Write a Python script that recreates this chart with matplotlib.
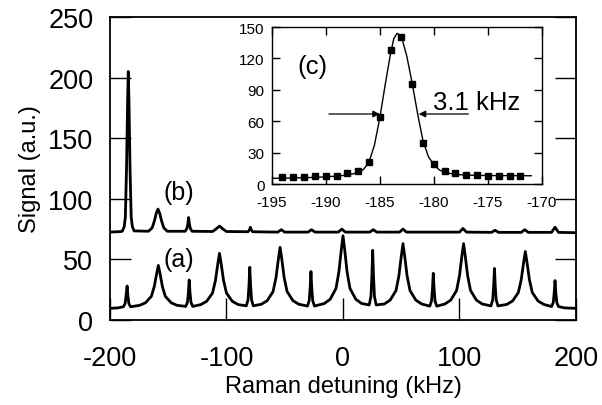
import matplotlib
matplotlib.use("Agg")
import matplotlib.pyplot as plt

plt.rcParams['font.family'] = ['Liberation Sans', 'DejaVu Sans']
plt.rcParams['axes.unicode_minus'] = False

# trace (a): points (kHz, a.u.)
a_x = [-200, -193,
       -188.5, -187, -186.2, -185.3, -184.6, -183.8, -182.3,
       -174.5, -169.5, -164.5, -162, -160, -158.5, -157, -155, -152.5, -147.5, -142.5,
       -135, -133.5, -132.7, -132, -131.3, -130.5, -129,
       -122, -117, -112, -109.5, -107.5, -106, -104.5, -102.5, -100, -95, -90,
       -83, -81.5, -80.7, -80, -79.3, -78.5, -77,
       -70, -65, -60, -57.5, -55.5, -54, -52.5, -50.5, -48, -43, -38,
       -30.5, -29, -28.2, -27.5, -26.8, -26, -24.5,
       -16, -11, -6, -3.5, -1.5, 0, 1.5, 3.5, 6, 11, 16,
       22.5, 24, 24.8, 25.5, 26.2, 27, 28.5,
       35.5, 40.5, 45.5, 48, 50, 51.5, 53, 55, 57.5, 62.5, 67.5,
       74.5, 76, 76.8, 77.5, 78.2, 79, 80.5,
       87.5, 92.5, 97.5, 100, 102, 103.5, 105, 107, 109.5, 114.5, 119.5,
       127, 128.5, 129.3, 130, 130.7, 131.5, 133,
       140.5, 145.5, 150.5, 153, 155, 156.5, 158, 160, 162.5, 167.5, 172.5,
       179, 180.5, 181.3, 182, 182.7, 183.5, 185,
       190, 200]
a_y = [9.6, 10,
       10.9, 13.6, 19.9, 28, 19.9, 13.6, 10.9,
       12.1, 14.2, 19.5, 27.5, 38, 45, 38, 27.5, 19.5, 14.2, 12.1,
       11.2, 14.6, 22.7, 33, 22.7, 14.6, 11.2,
       12.7, 15.4, 22.2, 32.5, 46, 55, 46, 32.5, 22.2, 15.4, 12.7,
       11.7, 16.7, 28.4, 43.5, 28.4, 16.7, 11.7,
       13, 16, 23.5, 35, 50, 60, 50, 35, 23.5, 16, 13,
       11.5, 16, 26.5, 40, 26.5, 16, 11.5,
       13.6, 17.1, 26, 39.8, 57.6, 69.5, 57.6, 39.8, 26, 17.1, 13.6,
       12.4, 19.5, 36.1, 57.5, 36.1, 19.5, 12.4,
       13.2, 16.4, 24.3, 36.5, 52.4, 63, 52.4, 36.5, 24.3, 16.4, 13.2,
       11.4, 15.7, 25.7, 38.5, 25.7, 15.7, 11.4,
       13.2, 16.4, 24.3, 36.5, 52.4, 63, 52.4, 36.5, 24.3, 16.4, 13.2,
       11.6, 16.5, 27.9, 42.5, 27.9, 16.5, 11.6,
       12.8, 15.6, 22.6, 33.3, 47.2, 56.5, 47.2, 33.3, 22.6, 15.6, 12.8,
       11.1, 14.5, 22.4, 32.5, 22.4, 14.5, 11.1,
       10, 9.6]

# trace (b), offset vertically
b_x = [-200, -190,
       -189.3, -187.8, -186.8, -185.8, -184.9, -184.3, -183.7, -182.8, -181.8, -180.8, -179.3,
       -167, -163.8, -161.8, -160.3, -158.8, -157.3, -155.8, -153.8, -150.8,
       -135.5, -134, -133.2, -132.5, -131.8, -131, -129.5,
       -112, -109, -106, -103, -100,
       -81.5, -80.2, -79.5, -78.8, -77.5,
       -56, -53, -50, -30, -27, -24, -4, -1, 2, 23, 26, 29,
       48.5, 51.5, 54.5, 100, 103, 106, 127.5, 130.5, 133.5,
       153, 156, 159, 179, 182, 185, 200]
b_y = [72.5, 73,
       73.5, 77, 85, 125, 180, 205, 180, 125, 85, 77, 73.5,
       73.2, 76, 82, 88, 91.5, 88, 82, 76, 73.2,
       73.2, 75.5, 79, 84.5, 79, 75.5, 73.2,
       73, 75, 77.5, 75, 73,
       72.8, 74.5, 76.5, 74.5, 72.8,
       72.5, 74.5, 72.5, 72.5, 74.5, 72.5, 72.5, 75, 72.5, 72.5, 74.5, 72.5,
       72.5, 75, 72.5, 72.5, 75.5, 72.5, 72.3, 74, 72.3,
       72.3, 74.5, 72.3, 72.3, 76.5, 72.3, 72]

# inset (c): measured points and fitted line
c_x = [-194, -193, -192, -191, -190, -189, -188, -187, -186, -185, -184, -183,
       -182, -181, -180, -179, -178, -177, -176, -175, -174, -173, -172]
c_y = [6.4, 6.4, 7.0, 7.4, 7.9, 7.9, 10.2, 12.7, 21.3, 64.5, 128, 140,
       95.5, 38.9, 19.1, 12.1, 10.5, 8.9, 8.6, 8.0, 7.6, 7.3, 7.3]
fit_x = [-195, -192, -190, -188.5, -187.5, -187, -186.5, -186, -185.5, -185,
         -184.5, -184, -183.7, -183.4, -183, -182.5, -182, -181.5, -181,
         -180.5, -180, -179.5, -179, -178, -177, -175, -171]
fit_y = [5.4, 6.0, 6.8, 8.0, 9.6, 11, 14, 21, 37, 63,
         95, 125, 139, 144, 141, 122, 96, 67, 41,
         26, 18.5, 13.5, 11, 9.2, 8.5, 8.1, 7.9]

fig = plt.figure(figsize=(6.02, 4.06), dpi=100)
ax = fig.add_axes([0.1827, 0.2094, 0.7741, 0.7463])
ax.plot(a_x, a_y, color='black', lw=2)
ax.plot(b_x, b_y, color='black', lw=2)
ax.set_xlim(-200, 200)
ax.set_ylim(0, 250)
ax.set_xticks([-200, -100, 0, 100, 200])
ax.set_yticks([0, 50, 100, 150, 200, 250])
ax.tick_params(axis='y', direction='in', length=15, width=1, left=True, right=True,
               labelsize=19.5, pad=12)
ax.tick_params(axis='x', direction='in', length=16, width=1, top=False,
               labelsize=19.5, pad=18)
for s in ax.spines.values():
    s.set_linewidth(1.3)
ax.set_xlabel('Raman detuning (kHz)', fontsize=17, labelpad=3)
ax.set_ylabel('Signal (a.u.)', fontsize=17, labelpad=5)
ax.text(-141, 50.3, '(a)', fontsize=18, ha='center', va='center')
ax.text(-141, 105.4, '(b)', fontsize=18, ha='center', va='center')

ins = fig.add_axes([0.4513, 0.5443, 0.449, 0.3867])
ins.plot(fit_x, fit_y, color='black', lw=1)
ins.plot(c_x, c_y, 's', color='black', ms=5)
ins.set_xlim(-195, -170)
ins.set_ylim(0, 150)
ins.set_xticks([-195, -190, -185, -180, -175, -170])
ins.set_yticks([0, 30, 60, 90, 120, 150])
ins.tick_params(direction='in', length=6, width=1, top=True, right=True,
                labelsize=11)
ins.tick_params(axis='x', pad=8)
ins.tick_params(axis='y', pad=5)
for s in ins.spines.values():
    s.set_linewidth(1)
ins.text(-192.6, 112.7, '(c)', fontsize=18.5, ha='left', va='center')
ins.text(-180.1, 71.7, '3.1 kHz', fontsize=18.5, ha='left', va='baseline')
ins.annotate('', xy=(-185.0, 66.9), xytext=(-189.7, 66.9),
             arrowprops=dict(arrowstyle='-|>', color='black', lw=0.9, mutation_scale=10,
                             shrinkA=0, shrinkB=0))
ins.annotate('', xy=(-181.4, 66.9), xytext=(-176.8, 66.9),
             arrowprops=dict(arrowstyle='-|>', color='black', lw=0.9, mutation_scale=10,
                             shrinkA=0, shrinkB=0))

fig.savefig('out.png', dpi=100)
